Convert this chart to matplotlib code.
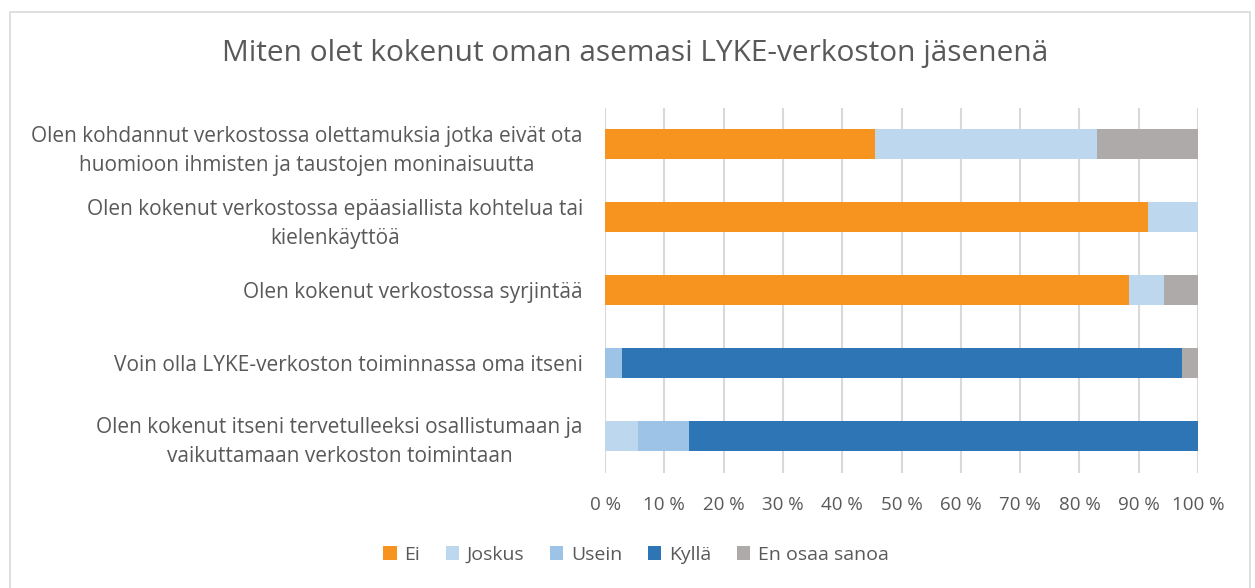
import matplotlib.pyplot as plt
import matplotlib.patches as mpatches
import numpy as np

# Kysymykset (ylhäältä alas)
kysymykset = [
    "Olen kohdannut verkostossa olettamuksia jotka eivät ota\nhuomioon ihmisten ja taustojen moninaisuutta",
    "Olen kokenut verkostossa epäasiallista kohtelua tai\nkielenkäyttöä",
    "Olen kokenut verkostossa syrjintää",
    "Voin olla LYKE-verkoston toiminnassa oma itseni",
    "Olen kokenut itseni tervetulleeksi osallistumaan ja\nvaikuttamaan verkoston toimintaan",
]
sarjat = ["Ei", "Joskus", "Usein", "Kyllä", "En osaa sanoa"]
ei = [45.6, 91.5, 88.3, 0.0, 0.0]
joskus = [37.3, 8.5, 5.9, 0.0, 5.6]
usein = [0.0, 0.0, 0.0, 2.8, 8.6]
kylla = [0.0, 0.0, 0.0, 94.5, 85.8]
en_osaa = [17.1, 0.0, 5.8, 2.7, 0.0]
xticks = np.arange(0, 101, 10)
xticklabels = [f"{v} %" for v in xticks]

colors = ['#F7941F', '#BDD7EE', '#9DC3E6', '#2E75B6', '#AEAAAA']
tekstivari = '#595959'
plt.rcParams['font.family'] = ['Open Sans', 'DejaVu Sans']

fig = plt.figure(figsize=(12.55, 5.88), dpi=100)
ax = fig.add_axes([605 / 1255, 115.5 / 588, 593 / 1255, 365 / 588])

# reunus
fig.patches.append(mpatches.Rectangle((10 / 1255, -0.05), 1240 / 1255, 1.05 - 12 / 588,
                                      transform=fig.transFigure, fill=False,
                                      edgecolor='#D9D9D9', linewidth=1.2))

y_pos = np.arange(len(kysymykset))
left = np.zeros(len(kysymykset))
for nimi, arvot, c in zip(sarjat, [ei, joskus, usein, kylla, en_osaa], colors):
    ax.barh(y_pos, arvot, left=left, height=0.4, color=c, label=nimi, zorder=3)
    left += np.array(arvot)

ax.set_xlim(0, 100)
ax.set_ylim(len(kysymykset) - 0.5, -0.5)
ax.set_xticks(xticks)
ax.set_xticklabels(xticklabels, fontsize=13.5, color=tekstivari)
ax.set_yticks(y_pos)
ax.set_yticklabels(kysymykset, fontsize=15, color=tekstivari, multialignment='center',
                   linespacing=1.5)
ax.tick_params(axis='y', length=0, pad=16)
ax.tick_params(axis='x', length=0, pad=17)

for s in ax.spines.values():
    s.set_visible(False)
ax.set_axisbelow(True)
ax.xaxis.grid(True, color='#D9D9D9', linewidth=1.5)
ax.yaxis.grid(False)

fig.text(635 / 1255, 1 - 54 / 588, "Miten olet kokenut oman asemasi LYKE-verkoston jäsenenä",
         ha='center', va='center', fontsize=21.5, color=tekstivari)

ax.legend(loc='center', bbox_to_anchor=(636 / 1255, 1 - 555 / 588), bbox_transform=fig.transFigure,
          ncol=5, frameon=False, fontsize=14, handlelength=0.7, handleheight=0.7,
          handletextpad=0.4, columnspacing=1.3, labelcolor=tekstivari)

fig.savefig('out.png', dpi=100)
